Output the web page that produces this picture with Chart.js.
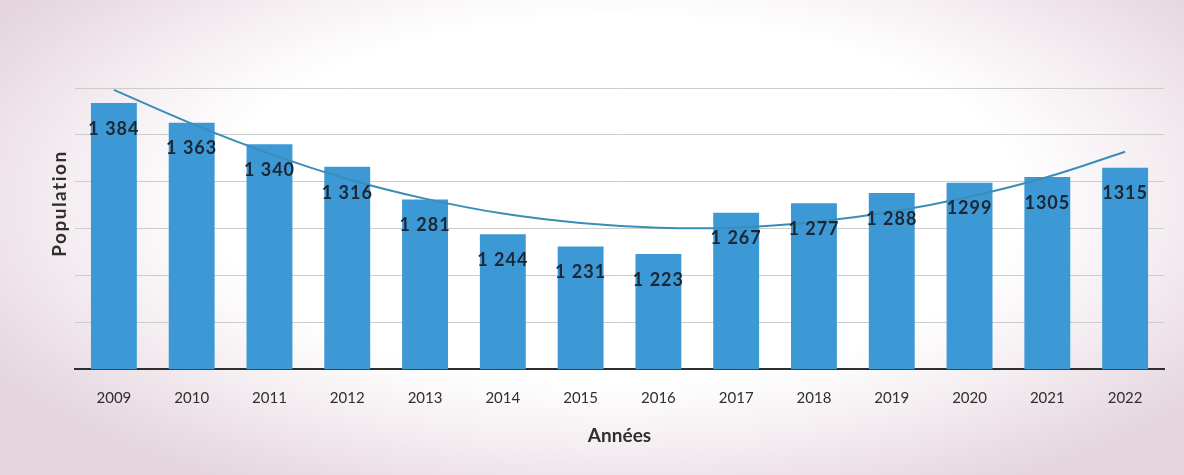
<!DOCTYPE html>
<html lang="fr">
<head>
<meta charset="utf-8">
<title>Population 2009-2022</title>
<script src="https://cdn.jsdelivr.net/npm/chart.js@4.4.1/dist/chart.umd.min.js"></script>
<style>
  html, body { margin: 0; padding: 0; }
  body {
    width: 1184px; height: 475px; overflow: hidden;
    background: radial-gradient(ellipse 62% 70% at 52% 42%, #ffffff 55%, #f4edf1 75%, #e4d5df 100%);
  }
  #wrap { position: relative; width: 1184px; height: 475px; }
</style>
</head>
<body>
<div id="wrap"><canvas id="chart" width="1184" height="475"></canvas></div>
<script>
// ---- DATA ----
const years = ['2009', '2010', '2011', '2012', '2013', '2014', '2015',
               '2016', '2017', '2018', '2019', '2020', '2021', '2022'];
const population = [1384, 1363, 1340, 1316, 1281, 1244, 1231,
                    1223, 1267, 1277, 1288, 1299, 1305, 1315];
const populationLabels = ['1 384', '1 363', '1 340', '1 316', '1 281', '1 244', '1 231',
                          '1 223', '1 267', '1 277', '1 288', '1299', '1305', '1315'];
// polynomial trend curve, read point by point
const trend = [1398, 1362, 1330, 1303, 1282, 1266, 1256,
               1251, 1251, 1257, 1268, 1284, 1305, 1332];
const yTicks = [1100, 1150, 1200, 1250, 1300, 1350, 1400];

const FONT = "Lato, 'Open Sans', sans-serif";
const TEXT = '#2f2f2f';

// value labels inside the top of each bar
const barLabelPlugin = {
  id: 'barLabels',
  afterDatasetsDraw(chart) {
    const meta = chart.getDatasetMeta(0);
    const ctx = chart.ctx;
    ctx.save();
    ctx.font = "bold 18px " + FONT;
    ctx.letterSpacing = '1px';
    ctx.fillStyle = '#1c2733';
    ctx.textAlign = 'center';
    ctx.textBaseline = 'middle';
    meta.data.forEach((bar, i) => {
      ctx.fillText(populationLabels[i], bar.x, bar.y + 26);
    });
    ctx.restore();
  }
};

// y axis title, set a little above the middle of the plot
const yTitlePlugin = {
  id: 'yTitle',
  afterDraw(chart) {
    const { ctx, chartArea } = chart;
    ctx.save();
    ctx.translate(chartArea.left - 15, (chartArea.top + chartArea.bottom) / 2 - 25);
    ctx.rotate(-Math.PI / 2);
    ctx.font = "bold 19px " + FONT;
    ctx.letterSpacing = '1.5px';
    ctx.fillStyle = TEXT;
    ctx.textAlign = 'center';
    ctx.textBaseline = 'middle';
    ctx.fillText('Population', 0, 0);
    ctx.restore();
  }
};

new Chart(document.getElementById('chart'), {
  type: 'bar',
  data: {
    labels: years,
    datasets: [
      {
        type: 'bar',
        data: population,
        backgroundColor: '#3d98d6',
        barPercentage: 1,
        categoryPercentage: 0.59,
        order: 2
      },
      {
        type: 'line',
        data: trend,
        borderColor: '#3a8db6',
        borderWidth: 2,
        pointRadius: 0,
        tension: 0.4,
        fill: false,
        clip: false,
        order: 1
      }
    ]
  },
  options: {
    responsive: false,
    animation: false,
    layout: { padding: { left: 75, right: 20, top: 88, bottom: 28 } },
    plugins: {
      legend: { display: false },
      tooltip: { enabled: false }
    },
    scales: {
      x: {
        grid: { display: false, drawTicks: false },
        border: { display: true, color: '#2e2e2e', width: 2 },
        ticks: {
          padding: 20,
          color: TEXT,
          font: { family: FONT, size: 15 }
        },
        title: {
          display: true,
          text: 'Années',
          color: TEXT,
          font: { family: FONT, size: 19, weight: 'bold' },
          padding: { top: -3, bottom: 0 }
        }
      },
      y: {
        display: true,
        min: 1100,
        max: 1400,
        afterBuildTicks: axis => { axis.ticks = yTicks.map(v => ({ value: v })); },
        grid: { color: '#cccccc', lineWidth: 1, drawTicks: false },
        border: { display: false },
        ticks: { display: false },
        title: { display: false }
      }
    }
  },
  plugins: [barLabelPlugin, yTitlePlugin]
});
</script>
</body>
</html>
